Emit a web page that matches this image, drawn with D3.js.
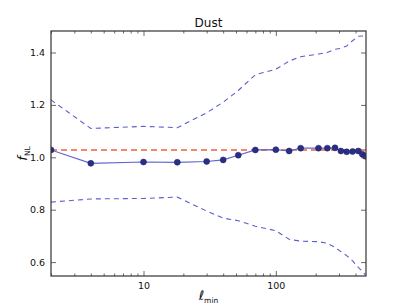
<!DOCTYPE html>
<html>
<head>
<meta charset="utf-8">
<script src="https://cdn.jsdelivr.net/npm/d3@7"></script>
<style>
  body { margin: 0; background: #fff; }
  svg text { font-family: "DejaVu Sans", sans-serif; }
</style>
</head>
<body>
<div id="root"></div>
<script>
// multipole cut and best-fit fNL (Dust), with upper/lower error envelope
const ellMin = [2, 4, 10, 18, 30, 40, 52, 70, 100, 126, 154, 210, 245, 280, 310, 343, 380, 420, 450, 475];
const fnl    = [1.028, 0.977, 0.982, 0.981, 0.984, 0.990, 1.008, 1.028, 1.029, 1.024, 1.035, 1.035, 1.035, 1.036, 1.024, 1.021, 1.022, 1.024, 1.012, 1.004];
const upper  = [1.219, 1.110, 1.118, 1.113, 1.170, 1.210, 1.255, 1.315, 1.336, 1.367, 1.384, 1.394, 1.400, 1.412, 1.416, 1.425, 1.445, 1.462, 1.463, 1.464];
const lower  = [0.829, 0.841, 0.843, 0.848, 0.795, 0.768, 0.758, 0.737, 0.720, 0.687, 0.680, 0.678, 0.672, 0.656, 0.640, 0.625, 0.605, 0.580, 0.565, 0.551];
const fullFnl = 1.028;
const yTicks = [0.6, 0.8, 1.0, 1.2, 1.4];
const xTicks = [10, 100];

const W = 407, H = 307;
const m = {left: 51, right: 41, top: 31, bottom: 31};
const w = W - m.left - m.right, h = H - m.top - m.bottom;

const svg = d3.select('#root').append('svg').attr('width', W).attr('height', H);
const g = svg.append('g').attr('transform', `translate(${m.left},${m.top})`);

const x = d3.scaleLog().domain([2, 480]).range([0, w]);
const y = d3.scaleLinear().domain([0.547, 1.482]).range([h, 0]);

svg.append('defs').append('clipPath').attr('id', 'clip')
  .append('rect').attr('width', w).attr('height', h);

const plot = g.append('g').attr('clip-path', 'url(#clip)');
const line = (vals) => d3.line().x((d, i) => x(ellMin[i])).y(d => y(d))(vals);

// envelope
[upper, lower].forEach(v => {
  plot.append('path').attr('d', line(v))
    .attr('fill', 'none').attr('stroke', '#5b5fc9').attr('stroke-width', 1.1)
    .attr('stroke-dasharray', '5,4');
});

// full-sky reference value
plot.append('line')
  .attr('x1', 0).attr('x2', w).attr('y1', y(fullFnl)).attr('y2', y(fullFnl))
  .attr('stroke', '#f2603f').attr('stroke-width', 1.4).attr('stroke-dasharray', '6,4');

plot.append('path').attr('d', line(fnl))
  .attr('fill', 'none').attr('stroke', '#6166cc').attr('stroke-width', 1.2);

plot.selectAll('circle').data(fnl).enter().append('circle')
  .attr('cx', (d, i) => x(ellMin[i])).attr('cy', d => y(d)).attr('r', 3)
  .attr('fill', '#2a2f86').attr('stroke', '#1c1f66').attr('stroke-width', 0.5);

// axes: ticks inside, mirrored on top/right
const minor = [];
for (let dec = 1; dec <= 100; dec *= 10)
  for (let k = 1; k < 10; k++) {
    const v = k * dec;
    if (v >= 2 && v <= 480 && !xTicks.includes(v)) minor.push(v);
  }

const xb = g.append('g').attr('transform', `translate(0,${h})`)
  .call(d3.axisBottom(x).tickValues(xTicks).tickFormat(d3.format('d')).tickSizeInner(-5).tickSizeOuter(0).tickPadding(6));
const xbm = g.append('g').attr('transform', `translate(0,${h})`)
  .call(d3.axisBottom(x).tickValues(minor).tickFormat('').tickSizeInner(-2.5).tickSizeOuter(0));
const xt = g.append('g')
  .call(d3.axisTop(x).tickValues(xTicks).tickFormat('').tickSizeInner(-5).tickSizeOuter(0));
const xtm = g.append('g')
  .call(d3.axisTop(x).tickValues(minor).tickFormat('').tickSizeInner(-2.5).tickSizeOuter(0));
const yl = g.append('g')
  .call(d3.axisLeft(y).tickValues(yTicks).tickFormat(d3.format('.1f')).tickSizeInner(-5).tickSizeOuter(0).tickPadding(6));
const yr = g.append('g').attr('transform', `translate(${w},0)`)
  .call(d3.axisRight(y).tickValues(yTicks).tickFormat('').tickSizeInner(-5).tickSizeOuter(0));

[xb, xbm, xt, xtm, yl, yr].forEach(a => {
  a.select('.domain').remove();
  a.selectAll('line').attr('stroke', '#444').attr('stroke-width', 0.8);
  a.selectAll('text').attr('font-size', 9.5).attr('fill', '#111').attr('font-family', '"DejaVu Sans", sans-serif');
});

g.append('rect').attr('width', w).attr('height', h)
  .attr('fill', 'none').attr('stroke', '#333').attr('stroke-width', 1.2);

svg.append('text').attr('x', m.left + w / 2).attr('y', 27)
  .attr('text-anchor', 'middle').attr('font-size', 12).attr('fill', '#111').text('Dust');

// axis labels (math italic)
const xlab = svg.append('text').attr('x', m.left + w / 2).attr('y', 300)
  .attr('text-anchor', 'middle').attr('fill', '#111')
  .attr('font-family', '"DejaVu Serif", serif');
xlab.append('tspan').attr('font-style', 'italic').attr('font-size', 13).text('ℓ');
xlab.append('tspan').attr('font-size', 7.5).attr('dy', 3).text('min');

const ylab = svg.append('text')
  .attr('transform', `translate(27,${m.top + h / 2}) rotate(-90)`)
  .attr('text-anchor', 'middle').attr('fill', '#111')
  .attr('font-family', '"DejaVu Serif", serif');
ylab.append('tspan').attr('font-style', 'italic').attr('font-size', 13).text('f');
ylab.append('tspan').attr('font-size', 7.5).attr('dy', 2.5).text('NL');
</script>
</body>
</html>
